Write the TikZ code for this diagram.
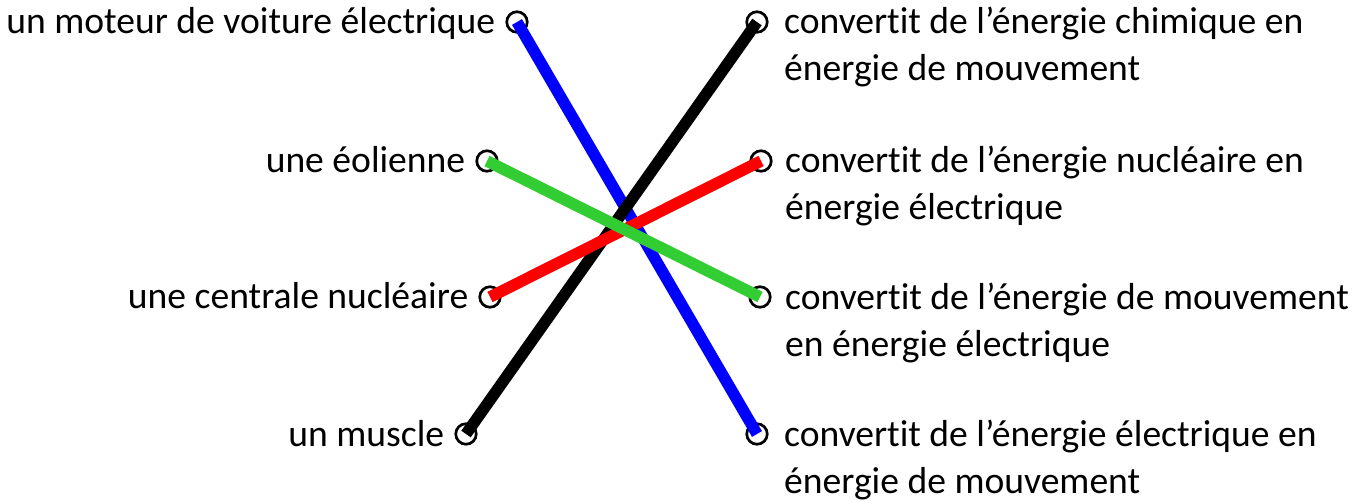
\documentclass[tikz,border=0pt]{standalone}
\usepackage{fontspec}
\setmainfont[Ligatures=NoCommon]{Carlito}
\usetikzlibrary{positioning}
\definecolor{vert}{RGB}{50,205,50}

\begin{document}
\begin{tikzpicture}[
    x=1pt, y=-1pt,
    font=\fontsize{37.6}{47}\selectfont,
    dot/.style={draw, circle, line width=2.7pt, minimum size=20.5pt, inner sep=0pt},
    lien/.style={line width=11.5pt},
    gauche/.style={inner sep=0pt, text height=24pt, text depth=0pt},
    droite/.style={inner sep=0pt, align=left, anchor=base west}
]
    \useasboundingbox (0,0) rectangle (1365,502);

    % 左侧圆
    \node[dot] (l1) at (517,22) {};
    \node[dot] (l2) at (487,161) {};
    \node[dot] (l3) at (490,297) {};
    \node[dot] (l4) at (466,434) {};
    % 右侧圆
    \node[dot] (r1) at (757,22) {};
    \node[dot] (r2) at (761,161) {};
    \node[dot] (r3) at (760,297) {};
    \node[dot] (r4) at (757,434) {};

    % 左侧文字
    \node[gauche, left=10pt of l1] (a1) {un moteur de voiture électrique};
    \node[gauche, left=10pt of l2] (a2) {une éolienne};
    \node[gauche, left=10pt of l3] (a3) {une centrale nucléaire};
    \node[gauche, left=10pt of l4] (a4) {un muscle};

    % 右侧文字 (base = 第二行基线)
    \node[droite] (b1) at ([shift={(27,59)}]r1.center) {convertit de l’énergie chimique en\\énergie de mouvement};
    \node[droite] (b2) at ([shift={(24,59)}]r2.center) {convertit de l’énergie nucléaire en\\énergie électrique};
    \node[droite] (b3) at ([shift={(25,59)}]r3.center) {convertit de l’énergie de mouvement\\en énergie électrique};
    \node[droite] (b4) at ([shift={(27,59)}]r4.center) {convertit de l’énergie électrique en\\énergie de mouvement};

    % 连线
    \draw[lien, blue] (l1.center) -- (r4.center);
    \draw[lien, black] (l4.center) -- (r1.center);
    \draw[lien, red] (l3.center) -- (r2.center);
    \draw[lien, vert] (l2.center) -- (r3.center);
\end{tikzpicture}
\end{document}
